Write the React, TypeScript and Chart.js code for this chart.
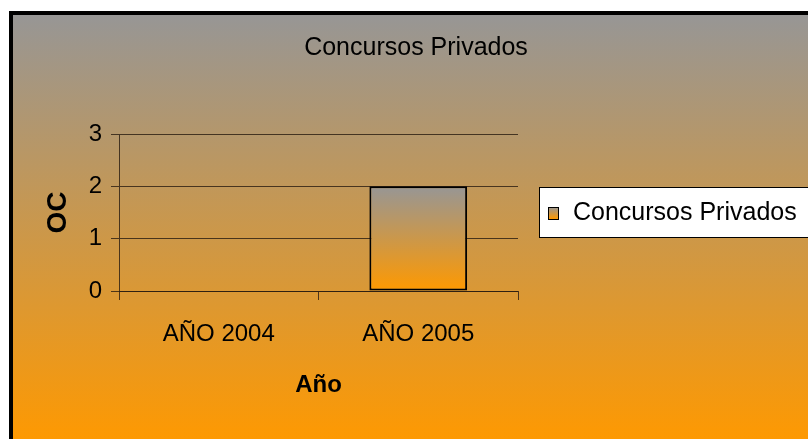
import React, { useEffect, useRef } from 'react';
import { Chart, registerables } from 'chart.js';

Chart.register(...registerables);

// ---- data ----
const chartTitle = 'Concursos Privados';
const categories = ['AÑO 2004', 'AÑO 2005'];
const seriesLabel = 'Concursos Privados';
const seriesValues = [0, 2];
const yTicks = [0, 1, 2, 3];
const xTitle = 'Año';
const yTitle = 'OC';

// ---- style ----
const W = 808;
const H = 439;
const FONT = '"Liberation Sans", Arial, Helvetica, sans-serif';
const GRAY = '#979695';
const ORANGE = '#ff9900';
const GRID = 'rgba(40,28,16,0.8)';

const bgPlugin = {
  id: 'frameBg',
  beforeDraw(chart: any) {
    const ctx = chart.ctx;
    ctx.save();
    ctx.fillStyle = '#ffffff';
    ctx.fillRect(0, 0, W, H);
    ctx.fillStyle = '#000000';
    ctx.fillRect(9, 11, W, H);
    const g = ctx.createLinearGradient(0, 15, 0, 445);
    g.addColorStop(0, GRAY);
    g.addColorStop(1, ORANGE);
    ctx.fillStyle = g;
    ctx.fillRect(13, 15, W, H);
    ctx.restore();
  },
};

const boxLegendPlugin = {
  id: 'boxLegend',
  afterDraw(chart: any) {
    const ds = chart.data.datasets[0];
    const ctx = chart.ctx;
    ctx.save();
    ctx.fillStyle = '#ffffff';
    ctx.fillRect(539.5, 187.5, 300, 50);
    ctx.strokeStyle = '#000000';
    ctx.lineWidth = 1;
    ctx.strokeRect(539.5, 187.5, 300, 50);
    const g = ctx.createLinearGradient(0, 207, 0, 219);
    g.addColorStop(0, GRAY);
    g.addColorStop(1, ORANGE);
    ctx.fillStyle = g;
    ctx.fillRect(548.5, 207.5, 10, 12);
    ctx.strokeRect(548.5, 207.5, 10, 12);
    ctx.fillStyle = '#000000';
    ctx.font = `25px ${FONT}`;
    ctx.textBaseline = 'middle';
    ctx.textAlign = 'left';
    ctx.fillText(ds.label, 573, 213);
    ctx.restore();
  },
};

export default function App() {
  const ref = useRef<HTMLCanvasElement | null>(null);

  useEffect(() => {
    if (!ref.current) return;
    const chart = new Chart(ref.current, {
      type: 'bar',
      data: {
        labels: categories,
        datasets: [
          {
            label: seriesLabel,
            data: seriesValues,
            backgroundColor: (c: any) => {
              const ch = c.chart;
              if (!ch.chartArea || c.type !== 'data' || !ch.scales.y) return ORANGE;
              const ys = ch.scales.y;
              const v = c.parsed ? c.parsed.y : 0;
              const top = ys.getPixelForValue(v);
              const bot = ys.getPixelForValue(0);
              if (!isFinite(top) || Math.abs(top - bot) < 1) return ORANGE;
              const g = ch.ctx.createLinearGradient(0, top, 0, bot);
              g.addColorStop(0, GRAY);
              g.addColorStop(1, ORANGE);
              return g;
            },
            borderColor: '#000000',
            borderWidth: 2,
            borderSkipped: false,
            categoryPercentage: 1,
            barPercentage: 0.49,
          },
        ],
      },
      options: {
        responsive: false,
        animation: false,
        events: [],
        layout: { padding: { left: 24, top: 0, right: 0, bottom: 0 } },
        plugins: {
          legend: { display: false },
          tooltip: { enabled: false },
          title: {
            display: true,
            text: chartTitle,
            color: '#000000',
            font: { family: FONT, size: 25, weight: 'normal', lineHeight: 1.2 },
            padding: { top: 33, bottom: 71 },
          },
        },
        scales: {
          x: {
            type: 'category',
            offset: true,
            grid: {
              offset: true,
              drawOnChartArea: false,
              drawTicks: true,
              tickLength: 9,
              color: GRID,
            },
            border: { display: true, color: GRID },
            ticks: {
              color: '#000000',
              font: { family: FONT, size: 24 },
              padding: 20,
              maxRotation: 0,
              autoSkip: false,
            },
            title: {
              display: true,
              text: xTitle,
              color: '#000000',
              font: { family: FONT, size: 24, weight: 'bold', lineHeight: 1.2 },
              padding: { top: 0, bottom: 38.9 },
            },
            afterFit: (s: any) => {
              s.height = 148;
            },
          },
          y: {
            min: yTicks[0],
            max: yTicks[yTicks.length - 1],
            afterBuildTicks: (s: any) => {
              s.ticks = yTicks.map((v) => ({ value: v }));
            },
            ticks: {
              color: '#000000',
              font: { family: FONT, size: 24 },
              padding: 9,
            },
            grid: { color: GRID, tickLength: 8, drawTicks: true },
            border: { display: true, color: GRID },
            title: {
              display: true,
              text: yTitle,
              color: '#000000',
              font: { family: FONT, size: 28, weight: 'bold', lineHeight: 1.2 },
              padding: { top: 17.7, bottom: 0 },
            },
            afterFit: (s: any) => {
              s.width = 95;
            },
          },
          yR: {
            type: 'linear',
            position: 'right',
            display: true,
            grid: { display: false },
            border: { display: false },
            ticks: { display: false },
            afterFit: (s: any) => {
              s.width = 290;
            },
          },
        },
      },
      plugins: [bgPlugin, boxLegendPlugin],
    } as any);
    return () => chart.destroy();
  }, []);

  return (
    <div style={{ position: 'fixed', left: 0, top: 0, width: W, height: H, overflow: 'hidden' }}>
      <canvas ref={ref} width={W} height={H} style={{ display: 'block', width: W, height: H }} />
    </div>
  );
}
